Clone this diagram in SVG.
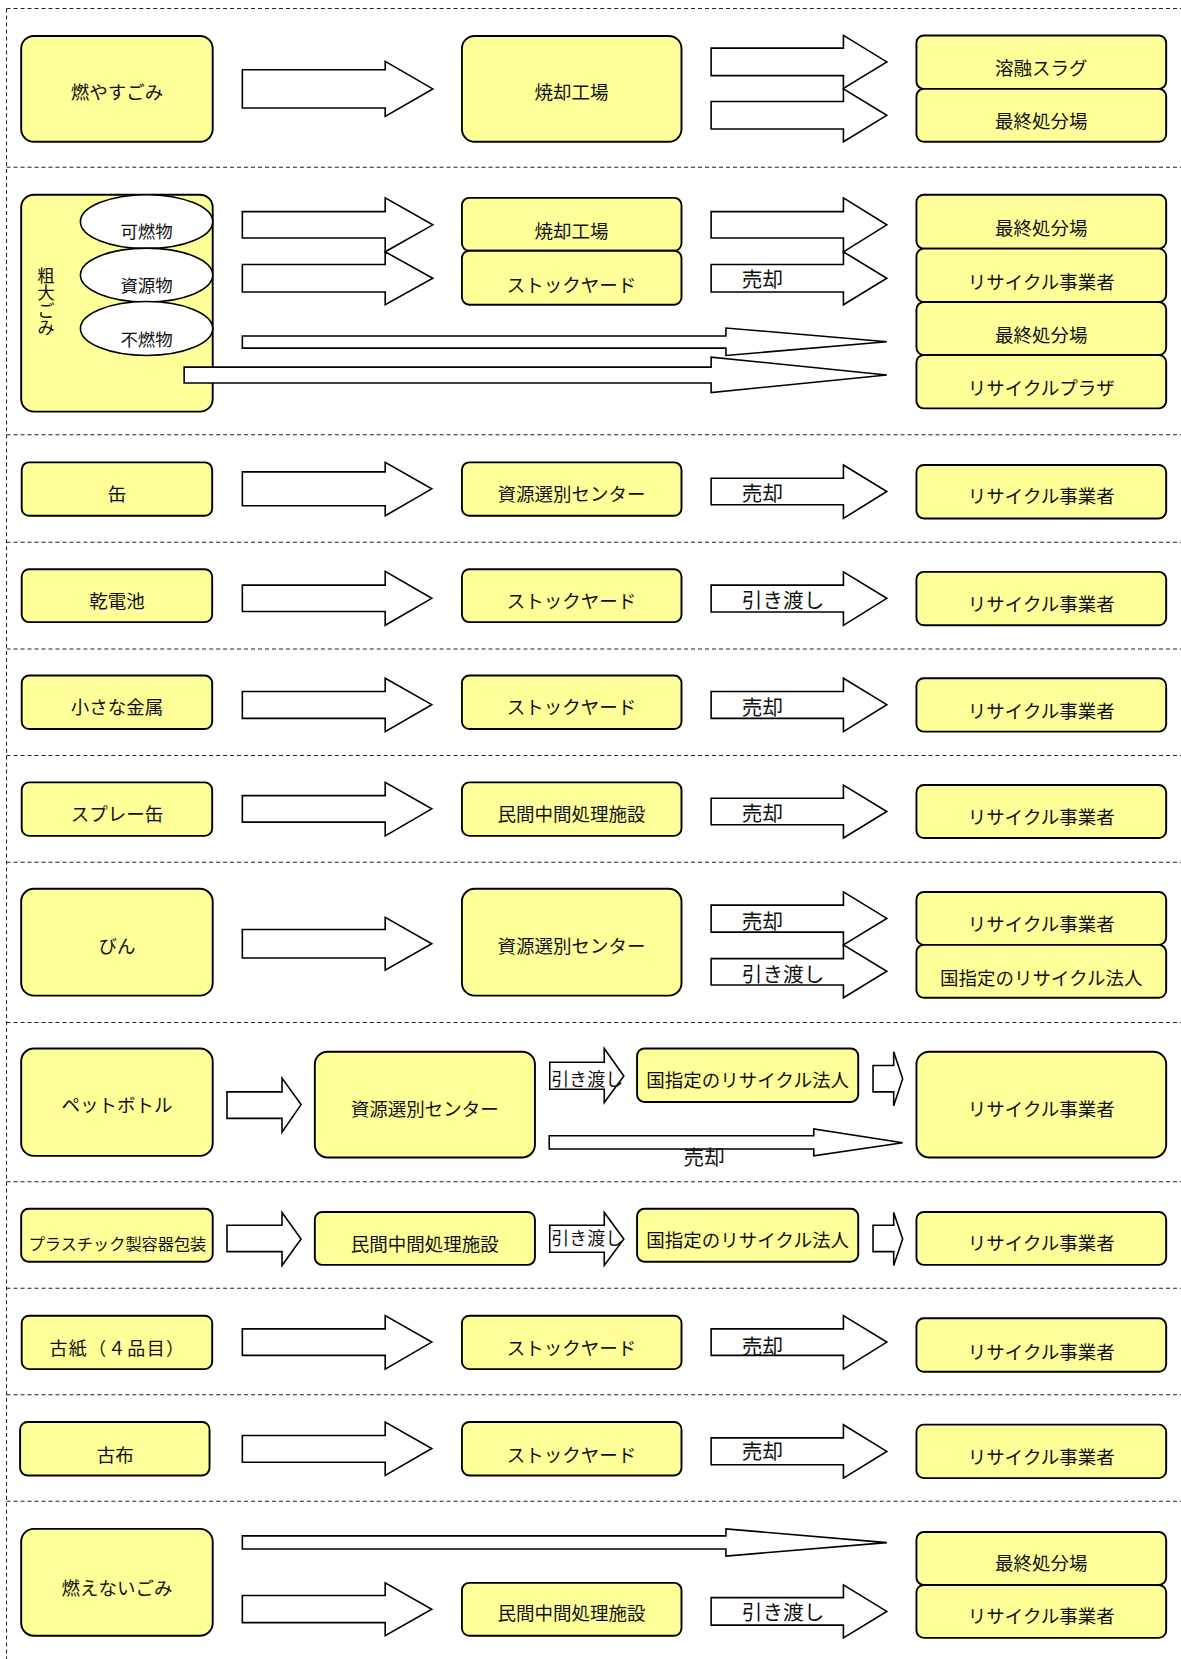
<svg xmlns="http://www.w3.org/2000/svg" width="1181" height="1659" viewBox="0 0 1181 1659">
  <style>
    .n { fill: #ffff99; stroke: #000; stroke-width: 1.8; }
    .e { fill: #fff; stroke: #000; stroke-width: 1.5; }
    .a { fill: #fff; stroke: #000; stroke-width: 1.5; stroke-linejoin: miter; }
    .d { fill: none; stroke: #222; stroke-width: 0.95; stroke-dasharray: 3.8 2.8; }
    text { font-family: "Noto Sans CJK JP", "Noto Sans", sans-serif; fill: #111; }
    .t { font-size: 17.5px; text-anchor: middle; }
    .s { font-size: 16.5px; text-anchor: middle; }
    .v { font-size: 16.5px; writing-mode: vertical-rl; }
    .l { font-size: 19.5px; }
    .m { font-size: 17px; }
  </style>
  <rect width="1181" height="1659" fill="#fff"/>
  <g transform="scale(1.05824 1.05804)">
    <!-- section frame -->
    <g id="dividers">
      <line class="d" x1="6.2" y1="8" x2="6.2" y2="1568"/>
      <line class="d" x1="6.2" y1="8" x2="1116" y2="8"/>
      <line class="d" x1="6.2" y1="158" x2="1116" y2="158"/>
      <line class="d" x1="6.2" y1="411" x2="1116" y2="411"/>
      <line class="d" x1="6.2" y1="512.5" x2="1116" y2="512.5"/>
      <line class="d" x1="6.2" y1="613.3" x2="1116" y2="613.3"/>
      <line class="d" x1="6.2" y1="714" x2="1116" y2="714"/>
      <line class="d" x1="6.2" y1="815" x2="1116" y2="815"/>
      <line class="d" x1="6.2" y1="966.3" x2="1116" y2="966.3"/>
      <line class="d" x1="6.2" y1="1117" x2="1116" y2="1117"/>
      <line class="d" x1="6.2" y1="1217.5" x2="1116" y2="1217.5"/>
      <line class="d" x1="6.2" y1="1318.3" x2="1116" y2="1318.3"/>
      <line class="d" x1="6.2" y1="1419" x2="1116" y2="1419"/>
    </g>

    <!-- 燃やすごみ -->
    <g id="moyasu-gomi"><rect class="n" x="20" y="34" width="181" height="100" rx="12"/><text class="t" x="110.5" y="94">燃やすごみ</text></g>
    <g id="shokyaku-1"><rect class="n" x="436.5" y="34" width="207.5" height="100" rx="12"/><text class="t" x="540" y="94">焼却工場</text></g>
    <g id="slag"><rect class="n" x="866" y="33.5" width="236" height="50.5" rx="7"/><text class="t" x="984" y="70.5">溶融スラグ</text></g>
    <g id="saishu-1"><rect class="n" x="866" y="84" width="236" height="50" rx="7"/><text class="t" x="984" y="120.6">最終処分場</text></g>

    <!-- 粗大ごみ -->
    <g id="sodai-gomi">
      <rect class="n" x="20" y="184" width="181" height="205" rx="12"/>
      <text class="v" x="43.5" y="252">粗大ごみ</text>
      <ellipse class="e" cx="138.5" cy="209.5" rx="62.5" ry="25.5"/>
      <text class="s" x="138.5" y="225">可燃物</text>
      <ellipse class="e" cx="138.5" cy="260" rx="62.5" ry="25.5"/>
      <text class="s" x="138.5" y="276">資源物</text>
      <ellipse class="e" cx="138.5" cy="310.5" rx="62.5" ry="25.5"/>
      <text class="s" x="138.5" y="327">不燃物</text>
    </g>
    <g id="shokyaku-2"><rect class="n" x="436.5" y="187" width="207.5" height="50" rx="7"/><text class="t" x="540" y="225">焼却工場</text></g>
    <g id="stock-2"><rect class="n" x="436.5" y="237" width="207.5" height="51" rx="7"/><text class="t" x="540" y="276">ストックヤード</text></g>
    <g id="saishu-2"><rect class="n" x="866" y="184" width="236" height="51" rx="7"/><text class="t" x="984" y="222.5">最終処分場</text></g>
    <g id="recycler-2"><rect class="n" x="866" y="235" width="236" height="50.5" rx="7"/><text class="t" x="984" y="273">リサイクル事業者</text></g>
    <g id="saishu-3"><rect class="n" x="866" y="285.5" width="236" height="50" rx="7"/><text class="t" x="984" y="323">最終処分場</text></g>
    <g id="plaza"><rect class="n" x="866" y="335.5" width="236" height="50.5" rx="7"/><text class="t" x="984" y="373">リサイクルプラザ</text></g>

    <!-- 缶 -->
    <g id="kan"><rect class="n" x="20.5" y="437" width="180" height="50.5" rx="7"/><text class="t" x="110.5" y="473.6">缶</text></g>
    <g id="center-3"><rect class="n" x="436.5" y="437" width="207.5" height="50.5" rx="7"/><text class="t" x="540" y="473.6">資源選別センター</text></g>
    <g id="recycler-3"><rect class="n" x="866" y="439.5" width="236" height="50.5" rx="7"/><text class="t" x="984" y="475.3">リサイクル事業者</text></g>

    <!-- 乾電池 -->
    <g id="kandenchi"><rect class="n" x="20.5" y="538" width="180" height="50" rx="7"/><text class="t" x="110.5" y="574.3">乾電池</text></g>
    <g id="stock-4"><rect class="n" x="436.5" y="538" width="207.5" height="50" rx="7"/><text class="t" x="540" y="574.3">ストックヤード</text></g>
    <g id="recycler-4"><rect class="n" x="866" y="540.5" width="236" height="50.5" rx="7"/><text class="t" x="984" y="577.5">リサイクル事業者</text></g>

    <!-- 小さな金属 -->
    <g id="kinzoku"><rect class="n" x="20.5" y="638.5" width="180" height="50.5" rx="7"/><text class="t" x="110.5" y="675.3">小さな金属</text></g>
    <g id="stock-5"><rect class="n" x="436.5" y="638.5" width="207.5" height="50.5" rx="7"/><text class="t" x="540" y="675.3">ストックヤード</text></g>
    <g id="recycler-5"><rect class="n" x="866" y="641" width="236" height="50.5" rx="7"/><text class="t" x="984" y="678.3">リサイクル事業者</text></g>

    <!-- スプレー缶 -->
    <g id="spray"><rect class="n" x="20.5" y="739.5" width="180" height="50.5" rx="7"/><text class="t" x="110.5" y="776">スプレー缶</text></g>
    <g id="minkan-6"><rect class="n" x="436.5" y="739.5" width="207.5" height="50.5" rx="7"/><text class="t" x="540" y="776">民間中間処理施設</text></g>
    <g id="recycler-6"><rect class="n" x="866" y="742" width="236" height="50" rx="7"/><text class="t" x="984" y="779.2">リサイクル事業者</text></g>

    <!-- びん -->
    <g id="bin"><rect class="n" x="20" y="840" width="181" height="101" rx="12"/><text class="t" x="110.5" y="901">びん</text></g>
    <g id="center-7"><rect class="n" x="436.5" y="840" width="207.5" height="101" rx="12"/><text class="t" x="540" y="901">資源選別センター</text></g>
    <g id="recycler-7"><rect class="n" x="866" y="843" width="236" height="50" rx="7"/><text class="t" x="984" y="879.5">リサイクル事業者</text></g>
    <g id="hojin-7"><rect class="n" x="866" y="893" width="236" height="50" rx="7"/><text class="t" x="984" y="930.5">国指定のリサイクル法人</text></g>

    <!-- ペットボトル -->
    <g id="pet"><rect class="n" x="20" y="991" width="181" height="101.5" rx="12"/><text class="t" x="110.5" y="1051.3">ペットボトル</text></g>
    <g id="center-8"><rect class="n" x="297.5" y="994" width="208" height="100" rx="12"/><text class="t" x="401.5" y="1055">資源選別センター</text></g>
    <g id="hojin-8"><rect class="n" x="602" y="991" width="209" height="50.5" rx="7"/><text class="t" x="706.5" y="1027">国指定のリサイクル法人</text></g>
    <g id="recycler-8"><rect class="n" x="866" y="994" width="236" height="100" rx="12"/><text class="t" x="984" y="1055">リサイクル事業者</text></g>

    <!-- プラスチック製容器包装 -->
    <g id="plastic"><rect class="n" x="20" y="1142.5" width="181" height="50" rx="7"/><text class="t" x="111" y="1181.5" style="font-size:15.3px">プラスチック製容器包装</text></g>
    <g id="minkan-9"><rect class="n" x="297.5" y="1145.5" width="208" height="50" rx="7"/><text class="t" x="401.5" y="1182">民間中間処理施設</text></g>
    <g id="hojin-9"><rect class="n" x="602" y="1142.5" width="209" height="50" rx="7"/><text class="t" x="706.5" y="1178.6">国指定のリサイクル法人</text></g>
    <g id="recycler-9"><rect class="n" x="866" y="1145.5" width="236" height="50" rx="7"/><text class="t" x="984" y="1181">リサイクル事業者</text></g>

    <!-- 古紙 -->
    <g id="koshi"><rect class="n" x="20.5" y="1243.5" width="180" height="50.5" rx="7"/><text class="t" x="111" y="1281" style="font-size:17px;letter-spacing:1.4px">古紙（４品目）</text></g>
    <g id="stock-10"><rect class="n" x="436.5" y="1243.5" width="207.5" height="50.5" rx="7"/><text class="t" x="540" y="1281">ストックヤード</text></g>
    <g id="recycler-10"><rect class="n" x="866" y="1246" width="236" height="50.5" rx="7"/><text class="t" x="984" y="1284">リサイクル事業者</text></g>

    <!-- 古布 -->
    <g id="kofu"><rect class="n" x="19" y="1344" width="179" height="50.5" rx="7"/><text class="t" x="109" y="1381.5">古布</text></g>
    <g id="stock-11"><rect class="n" x="436.5" y="1344" width="207.5" height="50.5" rx="7"/><text class="t" x="540" y="1381.5">ストックヤード</text></g>
    <g id="recycler-11"><rect class="n" x="866" y="1346.5" width="236" height="50.5" rx="7"/><text class="t" x="984" y="1384">リサイクル事業者</text></g>

    <!-- 燃えないごみ -->
    <g id="moenai-gomi"><rect class="n" x="20" y="1445" width="181" height="101" rx="12"/><text class="t" x="110.5" y="1507.5">燃えないごみ</text></g>
    <g id="minkan-12"><rect class="n" x="436.5" y="1496" width="207.5" height="50" rx="7"/><text class="t" x="540" y="1531.5">民間中間処理施設</text></g>
    <g id="saishu-12"><rect class="n" x="866" y="1448" width="236" height="50" rx="7"/><text class="t" x="984" y="1484">最終処分場</text></g>
    <g id="recycler-12"><rect class="n" x="866" y="1498" width="236" height="50" rx="7"/><text class="t" x="984" y="1534">リサイクル事業者</text></g>

    <!-- block arrows and their labels -->
    <g id="connectors">
      <polygon class="a" points="229,66 364,66 364,58 409,84 364,110 364,102 229,102"/>
      <polygon class="a" points="672,45.5 797,45.5 797,33.5 838,58.5 797,83.5 797,71.5 672,71.5"/>
      <polygon class="a" points="672,96 797,96 797,84 838,109 797,134 797,122 672,122"/>

      <polygon class="a" points="229,200 364,200 364,187 409,212.5 364,238 364,225 229,225"/>
      <polygon class="a" points="229,250 364,250 364,238 409,263 364,288 364,276 229,276"/>
      <polygon class="a" points="672,200 797,200 797,187 838,212.5 797,238 797,225 672,225"/>
      <polygon class="a" points="672,250 797,250 797,238 838,263 797,288 797,276 672,276"/>
      <text class="l" x="701" y="271.5">売却</text>
      <polygon class="a" points="229,317.5 686,317.5 686,310 838,323 686,336 686,329 229,329"/>
      <polygon class="a" points="174,347 672,347 672,337.5 838,354.5 672,371 672,362 174,362"/>

      <polygon class="a" points="229,446 364,446 364,437 408,462 364,487.5 364,478 229,478"/>
      <polygon class="a" points="672,452 797,452 797,439.5 838,464.5 797,490 797,477 672,477"/>
      <text class="l" x="701" y="473.5">売却</text>

      <polygon class="a" points="229,553 364,553 364,540 408,565.5 364,591 364,578 229,578"/>
      <polygon class="a" points="672,553 797,553 797,540.5 838,565.5 797,591 797,578.5 672,578.5"/>
      <text class="l" x="701" y="575">引き渡し</text>

      <polygon class="a" points="229,653.5 364,653.5 364,641 408,666 364,691.5 364,679 229,679"/>
      <polygon class="a" points="672,653.5 797,653.5 797,641 838,666 797,691.5 797,679 672,679"/>
      <text class="l" x="701" y="675.5">売却</text>

      <polygon class="a" points="229,752 364,752 364,739.5 408,764.5 364,790 364,777 229,777"/>
      <polygon class="a" points="672,754.5 797,754.5 797,742 838,767 797,792 797,779.5 672,779.5"/>
      <text class="l" x="701" y="776">売却</text>

      <polygon class="a" points="229,878.5 364,878.5 364,867 408,892 364,917 364,905.5 229,905.5"/>
      <polygon class="a" points="672,855.5 797,855.5 797,843 838,868 797,893 797,881 672,881"/>
      <text class="l" x="701" y="878">売却</text>
      <polygon class="a" points="672,906 797,906 797,893 838,918 797,943 797,931 672,931"/>
      <text class="l" x="701" y="928.5">引き渡し</text>

      <polygon class="a" points="214.5,1032 266.5,1032 266.5,1019 284.5,1044 266.5,1070 266.5,1057 214.5,1057"/>
      <polygon class="a" points="519.5,1004 571,1004 571,991 589.5,1017 571,1042 571,1029.5 519.5,1029.5"/>
      <text class="m" x="521" y="1026.5">引き渡し</text>
      <polygon class="a" points="825,1007 844.5,1007 844.5,994 853,1019.5 844.5,1045 844.5,1032 825,1032"/>
      <polygon class="a" points="519,1073.5 769,1073.5 769,1067 853,1080 769,1092.5 769,1086 519,1086"/>
      <text class="l" x="646" y="1101">売却</text>

      <polygon class="a" points="214.5,1158 266.5,1158 266.5,1146 284.5,1171 266.5,1196 266.5,1183 214.5,1183"/>
      <polygon class="a" points="519.5,1158 571,1158 571,1146 589.5,1171 571,1196 571,1183.5 519.5,1183.5"/>
      <text class="m" x="521" y="1177">引き渡し</text>
      <polygon class="a" points="825,1158 844.5,1158 844.5,1146 853,1171 844.5,1196 844.5,1183 825,1183"/>

      <polygon class="a" points="229,1256 364,1256 364,1243.5 408,1268.5 364,1294 364,1281 229,1281"/>
      <polygon class="a" points="672,1256 797,1256 797,1243.5 838,1268.5 797,1294 797,1281 672,1281"/>
      <text class="l" x="701" y="1279.5">売却</text>

      <polygon class="a" points="229,1356.7 364,1356.7 364,1344 408,1369 364,1394.4 364,1382 229,1382"/>
      <polygon class="a" points="672,1359 797,1359 797,1346.6 838,1371.8 797,1397 797,1384.4 672,1384.4"/>
      <text class="l" x="701" y="1379">売却</text>

      <polygon class="a" points="229,1451.6 686,1451.6 686,1445 838,1458 686,1470.7 686,1464 229,1464"/>
      <polygon class="a" points="229,1508 364,1508 364,1496 408,1521 364,1546 364,1533.6 229,1533.6"/>
      <polygon class="a" points="672,1510 797,1510 797,1498 838,1523 797,1548 797,1536 672,1536"/>
      <text class="l" x="701" y="1531.5">引き渡し</text>
    </g>
  </g>
</svg>
